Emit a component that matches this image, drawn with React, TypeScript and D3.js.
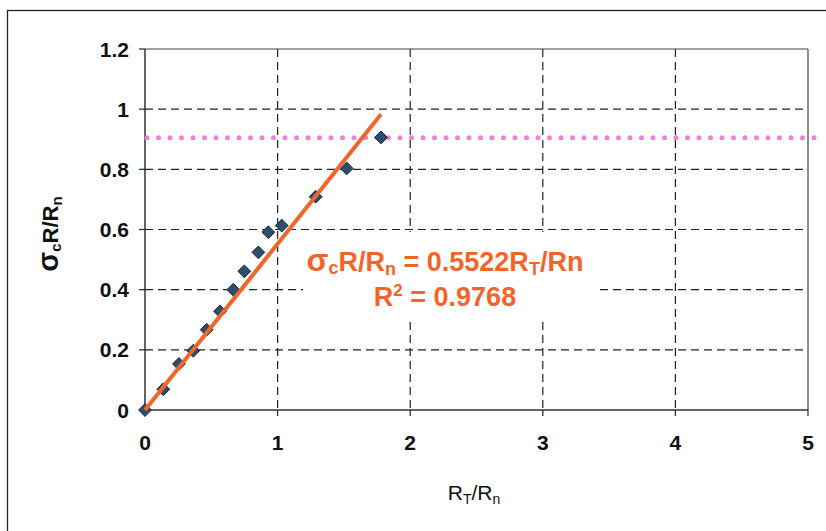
import React from "react";
import * as d3 from "d3";

const xValues = [0, 0.138, 0.256, 0.364, 0.465, 0.566, 0.666, 0.749, 0.855, 0.93, 1.031, 1.287, 1.521, 1.78];
const yValues = [0, 0.069, 0.153, 0.197, 0.267, 0.328, 0.4, 0.461, 0.524, 0.591, 0.613, 0.709, 0.803, 0.906];
const slope = 0.5522;
const refLevel = 0.905;
const xTicks = [0, 1, 2, 3, 4, 5];
const yTicks = [0, 0.2, 0.4, 0.6, 0.8, 1, 1.2];

const W = 826;
const H = 531;
const left = 145;
const right = 808;
const top = 49;
const bottom = 410;

export default function App() {
  const x = d3.scaleLinear().domain([0, 5]).range([left, right]);
  const y = d3.scaleLinear().domain([0, 1.2]).range([bottom, top]);
  const xMax = d3.max(xValues) as number;
  const font = "'Liberation Sans', Arial, sans-serif";
  const orange = "#F2652A";
  const diamond = d3.symbol().type(d3.symbolDiamond2).size(105)() as string;
  const dots = d3.range(x(0) + 2, x(5) + 10, 11.5);

  return (
    <svg width={W} height={H} style={{ position: "absolute", left: 0, top: 0, background: "#fff" }}>
      <rect x={0} y={0} width={W} height={H} fill="#fff" />
      <rect x={7.5} y={10.5} width={W + 20} height={H + 20} fill="none" stroke="#222" strokeWidth={1.3} />
      {/* gridlines */}
      {xTicks.slice(1, -1).map((t) => (
        <line key={"gx" + t} x1={x(t)} x2={x(t)} y1={top} y2={bottom} stroke="#222" strokeWidth={1.2} strokeDasharray="8,5" />
      ))}
      {yTicks.slice(1, -1).map((t) => (
        <line key={"gy" + t} x1={left} x2={right} y1={y(t)} y2={y(t)} stroke="#222" strokeWidth={1.2} strokeDasharray="8,5" />
      ))}
      {/* plot border */}
      <line x1={left} x2={right} y1={top} y2={top} stroke="#444" strokeWidth={1.2} />
      <line x1={right} x2={right} y1={top} y2={bottom} stroke="#444" strokeWidth={1.2} />
      {/* axes */}
      <line x1={left} x2={left} y1={top} y2={bottom} stroke="#333" strokeWidth={1.5} />
      <line x1={left} x2={right} y1={bottom} y2={bottom} stroke="#333" strokeWidth={1.5} />
      {xTicks.map((t) => (
        <g key={"xt" + t}>
          <line x1={x(t)} x2={x(t)} y1={bottom} y2={bottom + 6} stroke="#333" strokeWidth={1.3} />
          <text x={x(t)} y={bottom + 40} textAnchor="middle" fontFamily={font} fontWeight="bold" fontSize={21} fill="#111">
            {d3.format("~g")(t)}
          </text>
        </g>
      ))}
      {yTicks.map((t) => (
        <g key={"yt" + t}>
          <line x1={left - 6} x2={left} y1={y(t)} y2={y(t)} stroke="#333" strokeWidth={1.3} />
          <text x={left - 16} y={y(t) + 7.5} textAnchor="end" fontFamily={font} fontWeight="bold" fontSize={21} fill="#111">
            {d3.format("~g")(t)}
          </text>
        </g>
      ))}
      {/* white box behind equation */}
      <rect x={303} y={232} width={295} height={90} fill="#fff" />
      {/* reference dotted line */}
      {dots.map((d, i) => (
        <circle key={"d" + i} cx={d} cy={y(refLevel)} r={2.5} fill="#F27FD8" />
      ))}
      {/* data */}
      {xValues.map((xv, i) => (
        <path key={"p" + i} d={diamond} transform={`translate(${x(xv)},${y(yValues[i])})`} fill="#2C4D6E" stroke="#1A2A3A" strokeWidth={1} />
      ))}
      {/* trendline */}
      <line x1={x(0)} y1={y(0)} x2={x(xMax)} y2={y(slope * xMax)} stroke={orange} strokeWidth={4} />
      {/* equation */}
      <text x={445} y={271} textAnchor="middle" fontFamily={font} fontWeight="bold" fontSize={27} fill={orange}>
        <tspan fontSize={32}>σ</tspan>
        <tspan fontSize={18} dy={3}>c</tspan>
        <tspan dy={-3}>R/R</tspan>
        <tspan fontSize={18} dy={4}>n</tspan>
        <tspan dy={-4}> = 0.5522R</tspan>
        <tspan fontSize={18} dy={4}>T</tspan>
        <tspan dy={-4}>/Rn</tspan>
      </text>
      <text x={445} y={306} textAnchor="middle" fontFamily={font} fontWeight="bold" fontSize={27} fill={orange}>
        <tspan>R</tspan>
        <tspan fontSize={17} dy={-10}>2</tspan>
        <tspan dy={10}> = 0.9768</tspan>
      </text>
      {/* axis titles */}
      <text x={474} y={500} textAnchor="middle" fontFamily={font} fontSize={21} fill="#111">
        <tspan>R</tspan>
        <tspan fontSize={14} dy={4}>T</tspan>
        <tspan dy={-4}>/R</tspan>
        <tspan fontSize={14} dy={4}>n</tspan>
      </text>
      <text transform="translate(58,234) rotate(-90)" textAnchor="middle" fontFamily={font} fontWeight="bold" fontSize={22} fill="#111">
        <tspan fontSize={29}>σ</tspan>
        <tspan fontSize={15} dy={3}>c</tspan>
        <tspan dy={-3}>R/R</tspan>
        <tspan fontSize={15} dy={4}>n</tspan>
      </text>
    </svg>
  );
}
